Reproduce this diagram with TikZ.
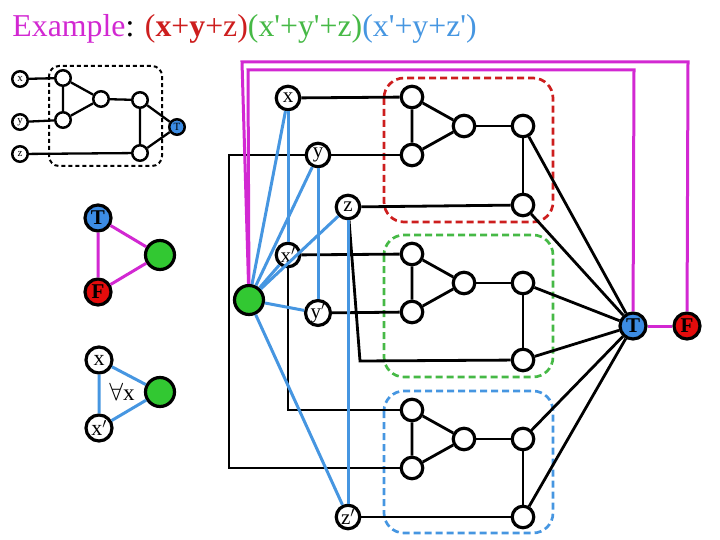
\documentclass[tikz,border=0pt]{standalone}
\usepackage{fontspec}
\setmainfont{Liberation Serif}
\usepackage{tikz}
\usetikzlibrary{calc,positioning,shapes}
\usetikzlibrary{arrows.meta}
\tikzstyle{every node}=[line width=1pt]
\definecolor{mag}{RGB}{210,40,210}
\definecolor{cred}{RGB}{205,30,30}
\definecolor{fred}{RGB}{228,12,12}
\definecolor{cgreen}{RGB}{70,185,70}
\definecolor{fgreen}{RGB}{50,200,50}
\definecolor{cblue}{RGB}{70,150,225}
\definecolor{fblue}{RGB}{60,140,228}
\newcommand{\pr}{\textquotesingle}

\begin{document}
\begin{tikzpicture}[x=1pt,y=-1pt]
  \useasboundingbox (0,0) rectangle (720,540);
  \tikzstyle{gnode} = [draw=black, circle, line width=3.2pt, minimum size=21.5pt, inner sep=0pt, fill=white]
  \tikzstyle{vnode} = [gnode, minimum size=23.5pt, font=\fontsize{21}{21}\selectfont]
  \tikzstyle{bignode} = [gnode, minimum size=26pt, font=\fontsize{21}{21}\selectfont\bfseries]
  \tikzstyle{snode} = [draw=black, circle, line width=2.5pt, minimum size=15.5pt, inner sep=0pt, fill=white, font=\fontsize{11}{11}\selectfont]
  \tikzstyle{wire} = [line width=2.8pt]
  \tikzstyle{swire} = [line width=2.3pt]
  \tikzstyle{bwire} = [line width=3pt, draw=cblue]
  \tikzstyle{mwire} = [line width=3pt, draw=mag]
  \tikzstyle{clause} = [line width=2.7pt, rounded corners=20pt, dash pattern=on 7pt off 4pt]

  % title
  \node[anchor=base west, inner sep=0pt, font=\fontsize{31.8}{32}\selectfont] (title) at (12,37)
    {\textcolor{mag}{Example}: \textcolor{cred}{(\textbf{x}+\textbf{y}+z)}\textcolor{cgreen}{(x\pr+y\pr+z)}\textcolor{cblue}{(x\pr+y+z\pr)}};

  % small or-gadget
  \draw[line width=2pt, rounded corners=10pt, dash pattern=on 4pt off 3pt] (49,66) rectangle (162,166);
  \node[snode] (sx) at (20,79) {x};
  \node[snode] (sy) at (20,122) {y};
  \node[snode] (sz) at (20,154) {z};
  \node[snode] (s1) at (63,78) {};
  \node[snode] (s2) at (63,120) {};
  \node[snode] (s3) at (101,99) {};
  \node[snode] (s4) at (140,100) {};
  \node[snode] (s5) at (140,153) {};
  \node[snode, fill=fblue] (sT) at (177,127) {T};
  \draw[swire] (sx) -- (s1);
  \draw[swire] (sy) -- (s2);
  \draw[swire] (sz) -- (s5);
  \draw[swire] (s1) -- (s2) -- (s3) -- (s1);
  \draw[swire] (s3) -- (s4) -- (s5) -- (sT) -- (s4);

  % legend
  \node[bignode, fill=fblue] (lT) at (98,218) {T};
  \node[bignode, fill=fgreen, minimum size=29pt] (lg1) at (160,255) {};
  \node[bignode, fill=fred] (lF) at (98,292) {F};
  \draw[mwire] (lT) -- (lg1) -- (lF) -- (lT);
  \node[bignode, font=\fontsize{22}{22}\selectfont] (lx) at (99,360) {x};
  \node[bignode, fill=fgreen, minimum size=29pt] (lg2) at (160,392) {};
  \node[bignode, font=\fontsize{22}{22}\selectfont] (lxp) at (99,428) {x$'$};
  \draw[bwire] (lx) -- (lg2) -- (lxp) -- (lx);
  \node[font=\fontsize{23}{23}\selectfont] (fa) at (122,392) {$\forall$x};

  % clause boxes
  \draw[clause, draw=cred] (384,78) rectangle (553,222);
  \draw[clause, draw=cgreen] (384,235) rectangle (553,377);
  \draw[clause, draw=cblue] (384,391) rectangle (553,533);

  % red clause gadget
  \node[gnode] (r1) at (412,97) {};
  \node[gnode] (r2) at (412,155) {};
  \node[gnode] (r3) at (464,126) {};
  \node[gnode] (r4) at (523,126) {};
  \node[gnode] (r5) at (523,205) {};
  % green clause gadget
  \node[gnode] (g1) at (412,254) {};
  \node[gnode] (g2) at (412,312) {};
  \node[gnode] (g3) at (464,283) {};
  \node[gnode] (g4) at (523,283) {};
  \node[gnode] (g5) at (523,360) {};
  % blue clause gadget
  \node[gnode] (b1) at (412,410) {};
  \node[gnode] (b2) at (412,468) {};
  \node[gnode] (b3) at (464,439) {};
  \node[gnode] (b4) at (523,439) {};
  \node[gnode] (b5) at (523,517) {};

  \node[bignode, fill=fblue] (T) at (633,326) {T};
  \node[bignode, fill=fred] (F) at (687,326) {F};

  % variables
  \node[vnode] (x) at (288,98) {x};
  \node[vnode] (y) at (318,155) {y};
  \node[vnode] (z) at (348,207) {z};
  \node[vnode] (xp) at (288,255) {x$'$};
  \node[vnode] (yp) at (318,313) {y$'$};
  \node[vnode] (zp) at (348,517) {z$'$};
  \node[bignode, fill=fgreen, minimum size=29pt] (base) at (249,300) {};

  \coordinate (zc) at (360,361);
  \coordinate (yc) at (229,155);
  \coordinate (mo1) at (242,62);
  \coordinate (mo2) at (688,62);
  \coordinate (mi1) at (248,70);
  \coordinate (mi2) at (634,70);

  % gadget wires
  \draw[wire] (r1) -- (r2) -- (r3) -- (r1);
  \draw[wire] (r3) -- (r4) -- (r5);
  \draw[wire] (g1) -- (g2) -- (g3) -- (g1);
  \draw[wire] (g3) -- (g4) -- (g5);
  \draw[wire] (b1) -- (b2) -- (b3) -- (b1);
  \draw[wire] (b3) -- (b4) -- (b5);
  \draw[wire] (r4) -- (T);
  \draw[wire] (r5) -- (T);
  \draw[wire] (g4) -- (T);
  \draw[wire] (g5) -- (T);
  \draw[wire] (b4) -- (T);
  \draw[wire] (b5) -- (T);

  % literal wires
  \draw[wire] (x) -- (r1);
  \draw[wire] (y) -- (r2);
  \draw[wire] (z) -- (r5);
  \draw[wire] (xp) -- (g1);
  \draw[wire] (yp) -- (g2);
  \draw[wire] (z) -- (zc) -- (g5);
  \draw[wire] (xp) |- (b1);
  \draw[wire] (y) -- (yc) |- (b2);
  \draw[wire] (zp) -- (b5);

  % variable gadgets
  \draw[bwire] (x) -- (xp);
  \draw[bwire] (y) -- (yp);
  \draw[bwire] (z) -- (zp);
  \draw[bwire] (base) -- (x);
  \draw[bwire] (base) -- (y);
  \draw[bwire] (base) -- (z);
  \draw[bwire] (base) -- (xp);
  \draw[bwire] (base) -- (yp);
  \draw[bwire] (base) -- (zp);

  % true/false wiring
  \draw[mwire] (base) -- (mo1) -- (mo2) -- (F);
  \draw[mwire] (base) -- (mi1) -- (mi2) -- (T);
  \draw[mwire] (T) -- (F);
\end{tikzpicture}
\end{document}
